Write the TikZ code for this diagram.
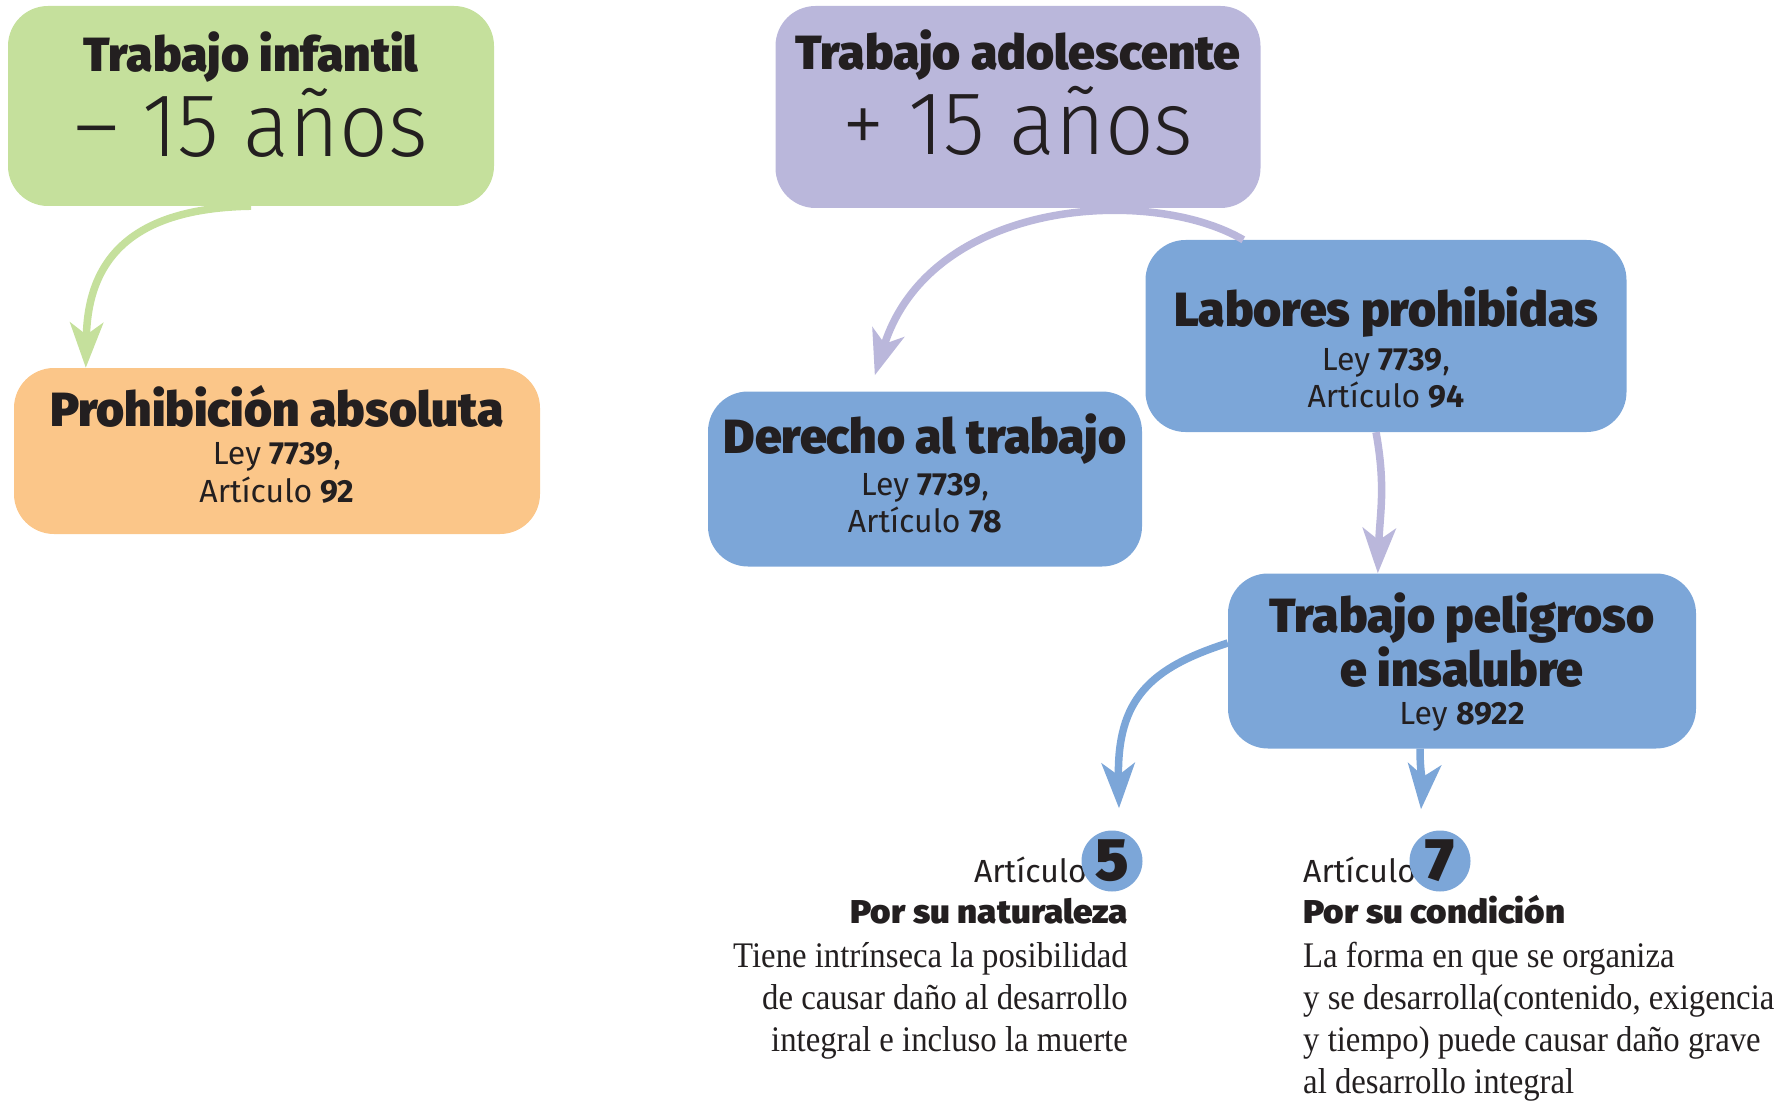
\documentclass[tikz,border=0pt]{standalone}
\usepackage{fontspec}
\usepackage{tikz}
\usetikzlibrary{arrows.meta,positioning}
\setmainfont{Liberation Serif}[FakeStretch=0.91]
\newfontfamily\boxfont{Fira Sans}
\newfontfamily\blackfont{Fira Sans Black}
\newfontfamily\headfont{Fira Sans Black}[FakeStretch=1.06]
\newfontfamily\lightfont{Fira Sans Light}[FakeStretch=0.95]

% Define colors
\definecolor{infantilgreen}{RGB}{197,224,156}
\definecolor{prohiborange}{RGB}{251,198,137}
\definecolor{adolpurple}{RGB}{186,183,219}
\definecolor{leyblue}{RGB}{124,166,216}
\definecolor{inkblack}{RGB}{35,31,32}

\newcommand{\boxtitle}[1]{{\blackfont\fontsize{48}{48}\selectfont #1}}
\newcommand{\bignum}[1]{{\lightfont\fontsize{90}{90}\selectfont #1}}

\tikzset{
    box/.style={rounded corners=40pt, inner sep=0pt, align=center, text depth=0pt,
        text=inkblack, font=\boxfont\fontsize{32}{38}\selectfont},
    conn/.style={line width=7.5pt, -{Stealth[length=45pt,width=33pt,inset=12pt]}},
    artlabel/.style={text=inkblack, inner sep=0pt, font=\boxfont\fontsize{32}{38}\selectfont},
    artnum/.style={circle, fill=leyblue, minimum size=61pt, inner sep=0pt, text=inkblack,
        font=\blackfont\fontsize{60}{60}\selectfont},
    heading/.style={text=inkblack, inner sep=0pt, font=\headfont\fontsize{33}{38}\selectfont},
    bodytext/.style={text=inkblack, inner sep=0pt, font=\fontsize{36}{42}\selectfont}
}

\begin{document}
\begin{tikzpicture}[x=1pt,y=1pt]
        \useasboundingbox (0,0) rectangle (1789,-1102);

        % Boxes
        \node[box, fill=infantilgreen, minimum width=486pt, minimum height=200pt, text height=102pt,
            font=\boxfont\fontsize{32}{85}\selectfont] (infantil) at (251,-106)
            {\boxtitle{Trabajo infantil}\\ \bignum{– 15 años}};
        \node[box, fill=prohiborange, minimum width=526pt, minimum height=166pt, text height=102pt] (prohib) at (277,-451)
            {\boxtitle{Prohibición absoluta}\\ Ley \textbf{7739},\\ Artículo \textbf{92}};
        \node[box, fill=adolpurple, minimum width=485pt, minimum height=202pt, text height=96pt,
            font=\boxfont\fontsize{32}{85}\selectfont] (adolesc) at (1018,-107)
            {\boxtitle{Trabajo adolescente}\\ \bignum{+ 15 años}};
        \node[box, fill=leyblue, minimum width=481pt, minimum height=192pt, text height=142pt] (labores) at (1386,-336)
            {\boxtitle{Labores prohibidas}\\[6pt] Ley \textbf{7739},\\[-1pt] Artículo \textbf{94}};
        \node[box, fill=leyblue, minimum width=434pt, minimum height=175pt, text height=107pt] (derecho) at (925,-479)
            {\boxtitle{Derecho al trabajo}\\[4pt] Ley \textbf{7739},\\[-1pt] Artículo \textbf{78}};
        \node[box, fill=leyblue, minimum width=468pt, minimum height=175pt, text height=127pt] (peligro) at (1462,-661)
            {\boxtitle{Trabajo peligroso}\\[2pt] \boxtitle{e insalubre}\\ Ley \textbf{8922}};

        % Articles 5 and 7
        \node[artlabel, anchor=base east] (lbl5) at (1087,-882) {Artículo};
        \node[artnum] (circ5) at (1112,-861) {5};
        \node[heading, anchor=base east] (head5) at (1128,-923) {Por su naturaleza};
        \node[bodytext, anchor=base east, align=right] (body5) at (1128,-1051)
            {Tiene intrínseca la posibilidad\\ de causar daño al desarrollo\\ integral e incluso la muerte};

        \node[artlabel, anchor=base west] (lbl7) at (1303,-882) {Artículo};
        \node[artnum] (circ7) at (1440,-861) {7};
        \node[heading, anchor=base west] (head7) at (1303,-923) {Por su condición};
        \node[bodytext, anchor=base west, align=left] (body7) at (1303,-1093)
            {La forma en que se organiza\\ y se desarrolla(contenido, exigencia\\ y tiempo) puede causar daño grave\\ al desarrollo integral};

        % Connectors
        \draw[conn, infantilgreen] (infantil.south) .. controls +(-120,-2) and +(2,108) .. ([xshift=72pt]prohib.north west);
        \draw[conn, adolpurple] ([xshift=98pt]labores.north west) .. controls +(-94,55) and +(55,176) .. ([shift={(167pt,16pt)}]derecho.north west);
        \draw[conn, adolpurple] ([xshift=-10pt]labores.south) .. controls +(10,-55) and +(2,60) .. ([xshift=150pt]peligro.north west);
        \draw[conn, leyblue] ([yshift=18pt]peligro.west) .. controls +(-78,-25) and +(-2,109) .. ([shift={(7pt,22pt)}]circ5.north);
        \draw[conn, leyblue] ([xshift=-42pt]peligro.south) .. controls +(0,-25) and +(2,25) .. ([shift={(-19pt,21pt)}]circ7.north);
    \end{tikzpicture}
\end{document}
